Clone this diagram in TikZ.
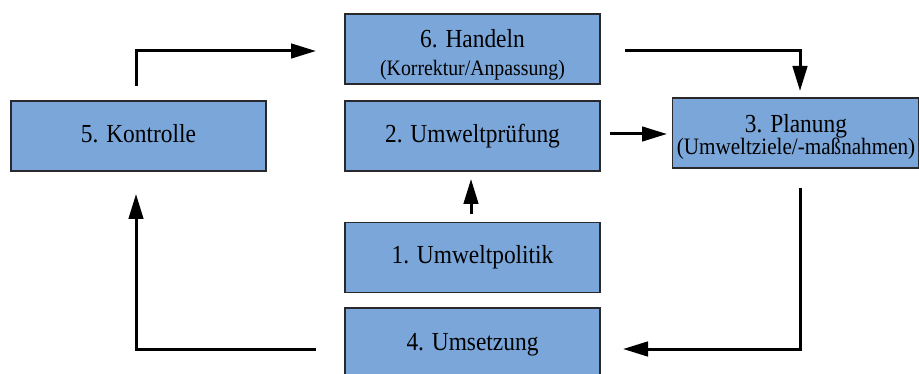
\documentclass[tikz,border=0pt]{standalone}
\usepackage{fontspec}
\setmainfont{Liberation Serif}[FakeStretch=0.9]
\usetikzlibrary{arrows.meta}
\definecolor{boxblue}{RGB}{122,166,217}
\definecolor{boxline}{RGB}{40,40,45}
\tikzset{
  box/.style={draw=boxline, line width=1.2pt, fill=boxblue, rectangle, inner sep=0pt, minimum width=255pt, minimum height=70pt},
  maintext/.style={anchor=base, inner sep=0pt, font=\fontsize{26}{28}\selectfont},
  subtext/.style={anchor=base, inner sep=0pt, font=\fontsize{22}{24}\selectfont},
  flow/.style={line width=3pt, -{Triangle[length=25pt,width=14.5pt]}}
}
\begin{document}
\begin{tikzpicture}[x=1pt,y=-1pt]
\useasboundingbox (0,0) rectangle (919,374);
\begin{scope}
\clip (0,0) rectangle (919,374);
% boxes
\node[box] (b6) at (472.5,49) {};
\node[box] (b2) at (472.5,136) {};
\node[box] (b5) at (138.5,136) {};
\node[box, minimum width=246pt] (b3) at (795.5,133) {};
\node[box] (b1) at (472.5,257.5) {};
\node[box] (b4) at (472.5,343) {};
\end{scope}
% texts
\node[maintext] (t6) at (472.5,48) {6. Handeln};
\node[subtext] (s6) at (472.5,76) {(Korrektur/Anpassung)};
\node[maintext] (t2) at (472.5,143) {2. Umweltprüfung};
\node[maintext] (t5) at (138.5,143) {5. Kontrolle};
\node[maintext] (t3) at (796,133)
  {\begin{tabular}[t]{@{}c@{}}3. Planung\\[-6pt]{\fontsize{23.5}{24}\selectfont(Umweltziele/-maßnahmen)}\end{tabular}};
\node[maintext] (t1) at (472.5,264) {1. Umweltpolitik};
\node[maintext] (t4) at (472.5,350) {4. Umsetzung};
% connector end points
\coordinate (a1s) at (136,86);
\coordinate (a1c) at (136,51);
\coordinate (a1e) at (316,51);
\coordinate (a2s) at (625,51);
\coordinate (a2c) at (800,51);
\coordinate (a2e) at (800,91);
\coordinate (a3s) at (610,134);
\coordinate (a3e) at (667,134);
\coordinate (a4s) at (471,214);
\coordinate (a4e) at (471,179);
\coordinate (a5s) at (800,188);
\coordinate (a5c) at (800,349);
\coordinate (a5e) at (623,349);
\coordinate (a6s) at (316,349);
\coordinate (a6c) at (136,349);
\coordinate (a6e) at (136,194);
% connectors
\draw[flow] (a1s) -- (a1c) -- (a1e);
\draw[flow] (a2s) -- (a2c) -- (a2e);
\draw[flow] (a3s) -- (a3e);
\draw[flow] (a4s) -- (a4e);
\draw[flow] (a5s) -- (a5c) -- (a5e);
\draw[flow] (a6s) -- (a6c) -- (a6e);
\end{tikzpicture}
\end{document}
